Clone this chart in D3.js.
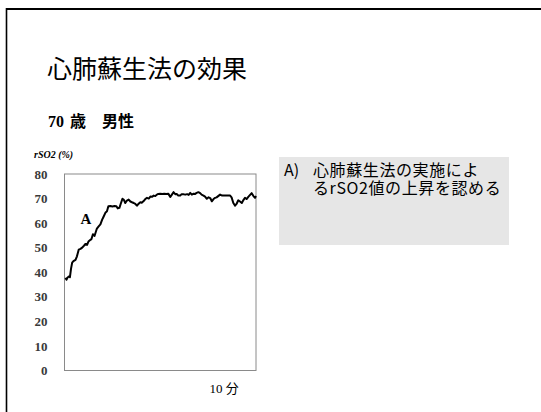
<!DOCTYPE html>
<html>
<head>
<meta charset="utf-8">
<script src="https://cdn.jsdelivr.net/npm/d3@7"></script>
<style>
  html, body { margin: 0; padding: 0; background: #fff; }
  body { position: relative; width: 541px; height: 412px; overflow: hidden; }
  svg { display: block; }
  .note { position: absolute; font-family: 'Noto Sans CJK JP', 'Noto Sans', sans-serif;
          font-size: 16px; line-height: 18.5px; color: #000; white-space: nowrap; }
</style>
</head>
<body>
<svg id="chart" width="541" height="412"></svg>
<script>
// ---- Data ----
const titleText = "心肺蘇生法の効果";
const subjectAge = "70";
const subjectLabel = "歳　男性";
const yAxisLabel = "rSO2 (%)";
const xUnitLabel = "10 分";
const xUnitValue = 10;
const seriesLabel = "A";
const noteLines = ["心肺蘇生法の実施によ", "るrSO2値の上昇を認める"];
const noteMarker = "A)";
const yTicks = [0, 10, 20, 30, 40, 50, 60, 70, 80];

// time (minutes)
const timeMin = [0.06,0.13,0.19,0.27,0.34,0.41,0.48,0.56,0.69,0.78,0.89,1.00,1.11,1.22,1.31,1.42,1.50,1.59,1.69,1.78,1.88,1.94,2.03,2.14,2.25,2.36,2.44,2.56,2.66,2.75,2.88,3.00,3.13,3.25,3.34,3.44,3.53,3.63,3.72,3.81,3.91,4.02,4.13,4.23,4.34,4.44,4.54,4.66,4.75,4.84,4.96,5.06,5.17,5.28,5.38,5.48,5.59,5.69,5.79,5.88,6.00,6.13,6.25,6.38,6.50,6.63,6.72,6.83,6.94,7.03,7.13,7.25,7.34,7.44,7.56,7.69,7.78,7.88,7.98,8.09,8.19,8.28,8.39,8.50,8.59,8.71,8.81,8.92,9.03,9.13,9.23,9.34,9.44,9.53,9.63,9.75,9.88,10.00,10.13,10.25,10.38,10.47,10.58,10.69,10.78,10.89,11.00,11.11,11.22,11.31,11.41,11.53,11.63,11.73,11.84,11.94,12.00];
// rSO2 (%)
const rso2 = [37.7,37.0,37.8,38.3,38.0,41.5,43.9,44.5,45.0,46.5,49.2,49.5,50.0,50.8,51.5,51.2,52.5,53.0,53.5,55.5,54.8,56.0,57.8,58.7,59.5,61.4,62.5,64.2,64.8,66.9,67.0,66.8,67.0,66.9,66.0,66.2,68.0,69.9,69.5,68.2,69.2,69.6,68.8,68.5,68.2,67.8,67.1,68.0,68.5,68.3,69.0,69.8,70.3,70.0,70.8,70.7,71.2,71.0,71.6,71.9,72.0,71.9,72.0,71.9,72.0,70.7,71.5,72.6,71.8,71.9,71.2,71.2,71.8,71.8,71.6,71.8,71.5,72.3,71.6,72.0,71.9,72.3,72.6,72.2,71.6,71.2,70.8,69.9,70.5,70.2,68.9,69.8,70.3,70.5,71.0,71.6,71.2,71.2,71.2,71.2,71.2,70.5,68.2,67.1,67.8,69.3,68.8,68.2,69.5,70.3,69.8,70.8,71.5,72.2,71.0,70.3,71.0];

// ---- Drawing ----
const svg = d3.select("#chart");
const CJK = "'Noto Sans CJK JP', 'Noto Sans', sans-serif";
const SERIF = "'Liberation Serif', 'DejaVu Serif', serif";

// slide border (top & left edges visible)
svg.append("line").attr("x1", 6.5).attr("x2", 541).attr("y1", 9).attr("y2", 9)
  .attr("stroke", "#000").attr("stroke-width", 2);
svg.append("line").attr("x1", 6.5).attr("x2", 6.5).attr("y1", 8).attr("y2", 412)
  .attr("stroke", "#000").attr("stroke-width", 1.6);

// title
svg.append("text").attr("x", 47).attr("y", 78)
  .attr("font-family", CJK).attr("font-size", 25).attr("fill", "#000")
  .text(titleText);

// subtitle
const sub = svg.append("text").attr("y", 127).attr("font-weight", "bold").attr("fill", "#000");
sub.append("tspan").attr("x", 48).style("font-family", SERIF).attr("font-size", 16).text(subjectAge);
sub.append("tspan").attr("x", 70).style("font-family", CJK).attr("font-size", 16).text(subjectLabel);

// plot area
const plot = { left: 64.5, right: 256, top: 174, bottom: 370.5 };
const x = d3.scaleLinear().domain([0, 12]).range([plot.left, plot.right]);
const y = d3.scaleLinear().domain([0, 80]).range([plot.bottom, plot.top]);

svg.append("rect")
  .attr("x", plot.left).attr("y", plot.top)
  .attr("width", plot.right - plot.left).attr("height", plot.bottom - plot.top)
  .attr("fill", "none").attr("stroke", "#8a8a8a").attr("stroke-width", 1);

const yAxis = svg.append("g")
  .attr("transform", `translate(${plot.left},0)`)
  .call(d3.axisLeft(y).tickValues(yTicks).tickSize(0).tickPadding(17).tickFormat(d3.format("d")));
yAxis.select(".domain").remove();
yAxis.attr("font-family", null);
yAxis.selectAll("text")
  .style("font-family", SERIF).style("font-size", "13px").style("font-weight", "bold")
  .attr("fill", "#3a3a3a");

// y label
svg.append("text").attr("x", 34).attr("y", 158)
  .style("font-family", SERIF).attr("font-size", 10)
  .attr("font-weight", "bold").attr("font-style", "italic").attr("fill", "#000")
  .text(yAxisLabel);

// series line
const pts = timeMin.map((t, i) => [t, rso2[i]]);
svg.append("path")
  .datum(pts)
  .attr("fill", "none").attr("stroke", "#000").attr("stroke-width", 2)
  .attr("stroke-linejoin", "round")
  .attr("d", d3.line().x(d => x(d[0])).y(d => y(d[1])));

// series label "A"
svg.append("text").attr("x", x(1.0)).attr("y", y(59.5))
  .style("font-family", SERIF).attr("font-size", 15).attr("font-weight", "bold").attr("fill", "#000")
  .text(seriesLabel);

// x unit label
svg.append("text").attr("x", x(xUnitValue)).attr("y", 393)
  .attr("text-anchor", "middle")
  .style("font-family", "'Liberation Serif', 'Noto Sans CJK JP', serif").attr("font-size", 13).attr("fill", "#000")
  .text(xUnitLabel);

// note box
svg.append("rect").attr("x", 279).attr("y", 157).attr("width", 230).attr("height", 88)
  .attr("fill", "#e6e6e6");
const body = d3.select("body");
body.append("div").attr("class", "note")
  .style("left", "284px").style("top", "159.8px")
  .text(noteMarker);
body.append("div").attr("class", "note")
  .style("left", "313px").style("top", "159.8px").style("letter-spacing", "0.6px")
  .html(noteLines.join("<br>"));
</script>
</body>
</html>
